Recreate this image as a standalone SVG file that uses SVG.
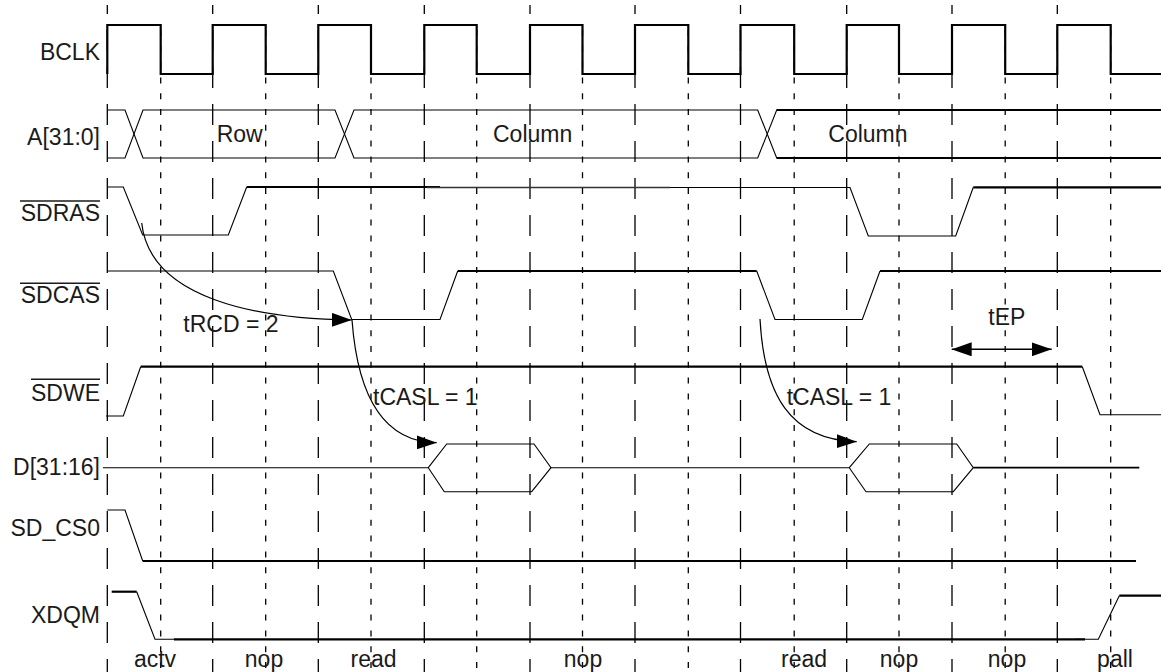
<svg xmlns="http://www.w3.org/2000/svg" width="1161" height="672" viewBox="0 0 1161 672">
<defs>
<marker id="ah" markerUnits="userSpaceOnUse" markerWidth="20" markerHeight="14" refX="20" refY="7" orient="auto-start-reverse" viewBox="0 0 20 14"><path d="M0,0 L20,7 L0,14 z" fill="#000"/></marker>
</defs>
<style>
.lbl{font-family:"Liberation Sans",Arial,sans-serif;font-size:23px;fill:#1a1a1a}
.end{text-anchor:end}
.mid{text-anchor:middle}
.ld{stroke:#000;stroke-width:1.3;stroke-dasharray:21 16;stroke-dashoffset:12;fill:none}
.sd{stroke:#000;stroke-width:1.3;stroke-dasharray:6 9.8;fill:none}
.th{stroke:#000;stroke-width:1.1;fill:none}
.md{stroke:#333;stroke-width:1.7;fill:none}
.tk{stroke:#000;stroke-width:2.2;fill:none}
.ov{stroke:#1a1a1a;stroke-width:1.6}
.arr{stroke:#000;stroke-width:1.2;fill:none}
</style>
<rect width="1161" height="672" fill="#fff"/>
<g id="grid">
<path class="ld" d="M107.3,5V672M212.7,5V672M318.3,5V672M424.3,5V672M530,5V672M635,5V672M740.5,5V672M846.7,5V672M952,5V672M1057.3,5V672"/>
<path class="sd" d="M160.7,30V672M265.7,30V672M371,30V672M476.7,30V672M582.5,30V672M688.3,30V672M794.2,30V672M899,30V672M1005.2,30V672M1110.7,30V672"/>
</g>
<g id="BCLK">
<text class="lbl end" x="100" y="60">BCLK</text>
<path class="tk" d="M107.3,74V25H160.7V74H212.7V25H265.7V74H318.3V25H371V74H424.3V25H476.7V74H530V25H582.5V74H635V25H688.3V74H740.5V25H794.2V74H846.7V25H899V74H952V25H1005.2V74H1057.3V25H1110.7V74H1161"/>
</g>
<g id="A">
<text class="lbl end" x="100" y="145">A[31:0]</text>
<path class="th" d="M107,110H125L143,158H335L354,110H757.7L776.7,158H1161"/>
<path class="th" d="M107,158H125L143,110H335L354,158H757.7L776.7,110H1161"/>
<path class="tk" d="M776.7,110H1161M776.7,158H1161" style="stroke-width:1.8"/>
<text class="lbl" x="216.7" y="142">Row</text>
<text class="lbl" x="493" y="142">Column</text>
<text class="lbl" x="828.3" y="142">Column</text>
</g>
<g id="SDRAS">
<text class="lbl end" x="100" y="221">SDRAS</text>
<line class="ov" x1="20" y1="201" x2="100" y2="201"/>
<path class="th" d="M107,187H123.3L142.7,235H228.3L246.7,187"/>
<path class="tk" d="M246.7,187H440"/>
<path class="md" d="M427,187.5H670"/>
<path class="th" d="M670,187.5H850L868.3,236H955.7L973.3,187.3"/>
<path class="tk" d="M973.3,187.3H1161"/>
</g>
<g id="SDCAS">
<text class="lbl end" x="100" y="303">SDCAS</text>
<line class="ov" x1="20" y1="283.3" x2="100" y2="283.3"/>
<path class="th" d="M107,271H333.3L351.7,319.5H440L457.7,271"/>
<path class="tk" d="M457.7,271H756.7"/>
<path class="th" d="M756.7,271L775,319.5H862.3L880,271"/>
<path class="tk" d="M880,271H1161"/>
</g>
<g id="SDWE">
<text class="lbl end" x="100" y="401">SDWE</text>
<line class="ov" x1="31" y1="379.3" x2="100" y2="379.3"/>
<path class="th" d="M106,416H123.3L140.7,366.7"/>
<path class="tk" d="M140.7,366.7H1082.3"/>
<path class="th" d="M1082.3,366.7L1100,414.7H1161"/>
</g>
<g id="D">
<text class="lbl end" x="100" y="475">D[31:16]</text>
<path class="th" d="M103,467.7H428.3L446.7,444H534L551,467.7L531.7,491.7H444.3L428.3,467.7"/>
<path class="th" d="M551,467.7H849.3L869.3,444H956.7L973.3,467.7L953.3,491.7H866L849.3,467.7"/>
<path class="tk" d="M973.3,467.7H1139.3" style="stroke-width:1.8"/>
</g>
<g id="SD_CS0">
<text class="lbl end" x="100" y="536">SD_CS0</text>
<path class="th" d="M107.3,510H125L142.7,561"/>
<path class="tk" d="M142.7,561H1136"/>
</g>
<g id="XDQM">
<text class="lbl end" x="100" y="623">XDQM</text>
<path class="tk" d="M111.7,591.7H136.7"/>
<path class="th" d="M136.7,591.7L155,639.3H174"/>
<path class="tk" d="M174,639.3H1085"/>
<path class="th" d="M1075,639.3H1098.3L1119.3,595.7"/>
<path class="tk" d="M1119.3,595.7H1161"/>
</g>
<g id="connectors">
<path class="arr" d="M141.7,223C150,300 260,319 351.7,320" marker-end="url(#ah)"/>
<path class="arr" d="M352,320C358,400 385,442 436.7,442.7" marker-end="url(#ah)"/>
<path class="arr" d="M760,319C764,395 790,440 856.7,441.7" marker-end="url(#ah)"/>
<path class="arr" d="M951.7,349.3H1051.7" style="stroke-width:1.5" marker-start="url(#ah)" marker-end="url(#ah)"/>
</g>
<g id="annotations">
<text class="lbl" x="183.3" y="331.7">tRCD = 2</text>
<text class="lbl" x="373" y="405">tCASL = 1</text>
<text class="lbl" x="786.7" y="405">tCASL = 1</text>
<text class="lbl" x="988.3" y="325">tEP</text>
</g>
<g id="commands">
<text class="lbl mid" x="155" y="667">actv</text>
<text class="lbl mid" x="264" y="667">nop</text>
<text class="lbl mid" x="373.5" y="667">read</text>
<text class="lbl mid" x="583" y="667">nop</text>
<text class="lbl mid" x="804" y="667">read</text>
<text class="lbl mid" x="899" y="667">nop</text>
<text class="lbl mid" x="1007" y="667">nop</text>
<text class="lbl mid" x="1115" y="667">pall</text>
</g>
</svg>
